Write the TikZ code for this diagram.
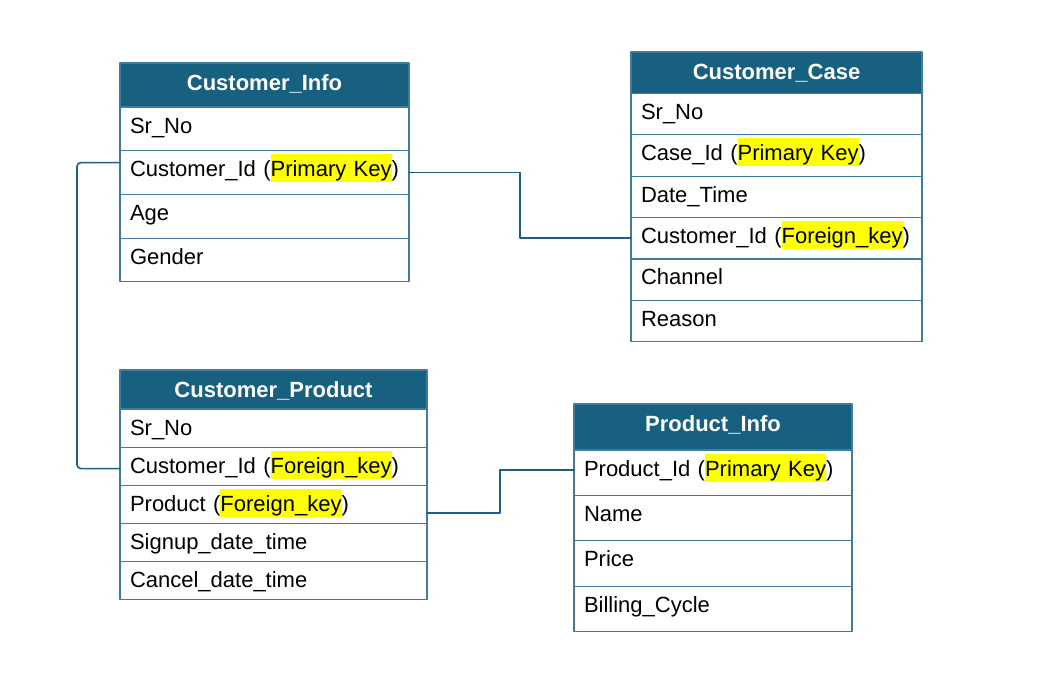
\documentclass[tikz,border=0pt]{standalone}
\usepackage{fontspec}
\setmainfont{Liberation Sans}
\usetikzlibrary{positioning}

\definecolor{headblue}{RGB}{24,96,128}
\definecolor{gridblue}{RGB}{66,124,156}
\definecolor{linkblue}{RGB}{30,94,128}
\definecolor{keyyellow}{RGB}{255,255,0}

% yellow marker behind a key word
\newcommand{\keymark}[1]{{\setlength{\fboxsep}{0pt}\colorbox{keyyellow}{\rule[-5.5pt]{0pt}{28pt}#1}}}

% text sits at a fixed distance below the top of each cell;
% args: text width, text depth (= cell height - text height)
\tikzset{
  cell/.style={draw=gridblue, line width=1.2pt, outer sep=0pt,
    inner xsep=10pt, inner ysep=0pt,
    font=\fontsize{22}{28}\selectfont},
  headcell/.style 2 args={cell, fill=headblue, text=white,
    font=\fontsize{22}{28}\selectfont\bfseries,
    text width=#1, text height=27.5pt, text depth=#2, align=center},
  fieldcell/.style 2 args={cell, fill=white, text width=#1,
    text height=26pt, text depth=#2, align=left},
  link/.style={draw=linkblue, line width=1.6pt},
}

\begin{document}
\begin{tikzpicture}[x=1pt, y=-1pt, line cap=round, line join=round]

\useasboundingbox (0,0) rectangle (1060,683);

% ----------------------------
% CUSTOMER_INFO
% ----------------------------
\node[headcell={269pt}{16.5pt}, anchor=north west] (ciHead) at (120,63) {Customer\_Info};
\node[fieldcell={269pt}{17.7pt}, below=0pt of ciHead] (ciSr) {Sr\_No};
\node[fieldcell={269pt}{17.7pt}, below=0pt of ciSr] (ciId) {Customer\_Id (\keymark{Primary Key})};
\node[fieldcell={269pt}{17.7pt}, below=0pt of ciId] (ciAge) {Age};
\node[fieldcell={269pt}{17.7pt}, below=0pt of ciAge] (ciGender) {Gender};

% ----------------------------
% CUSTOMER_CASE
% ----------------------------
\node[headcell={271pt}{13.8pt}, anchor=north west] (ccHead) at (631,52) {Customer\_Case};
\node[fieldcell={271pt}{15.4pt}, below=0pt of ccHead] (ccSr) {Sr\_No};
\node[fieldcell={271pt}{15.4pt}, below=0pt of ccSr] (ccCase) {Case\_Id (\keymark{Primary Key})};
\node[fieldcell={271pt}{15.4pt}, below=0pt of ccCase] (ccDate) {Date\_Time};
\node[fieldcell={271pt}{15.4pt}, below=0pt of ccDate] (ccCust) {Customer\_Id (\keymark{Foreign\_key})};
\node[fieldcell={271pt}{15.4pt}, below=0pt of ccCust] (ccChannel) {Channel};
\node[fieldcell={271pt}{15.4pt}, below=0pt of ccChannel] (ccReason) {Reason};

% ----------------------------
% CUSTOMER_PRODUCT
% ----------------------------
\node[headcell={287pt}{11.5pt}, anchor=north west] (cpHead) at (120,370) {Customer\_Product};
\node[fieldcell={287pt}{12.1pt}, below=0pt of cpHead] (cpSr) {Sr\_No};
\node[fieldcell={287pt}{12.1pt}, below=0pt of cpSr] (cpCust) {Customer\_Id (\keymark{Foreign\_key})};
\node[fieldcell={287pt}{12.1pt}, below=0pt of cpCust] (cpProd) {Product (\keymark{Foreign\_key})};
\node[fieldcell={287pt}{12.1pt}, below=0pt of cpProd] (cpSignup) {Signup\_date\_time};
\node[fieldcell={287pt}{12.1pt}, below=0pt of cpSignup] (cpCancel) {Cancel\_date\_time};

% ----------------------------
% PRODUCT_INFO
% ----------------------------
\node[headcell={258pt}{18.5pt}, anchor=north west] (piHead) at (574,404) {Product\_Info};
\node[fieldcell={258pt}{19.4pt}, below=0pt of piHead] (piId) {Product\_Id (\keymark{Primary Key})};
\node[fieldcell={258pt}{19.4pt}, below=0pt of piId] (piName) {Name};
\node[fieldcell={258pt}{19.4pt}, below=0pt of piName] (piPrice) {Price};
\node[fieldcell={258pt}{19.4pt}, below=0pt of piPrice] (piCycle) {Billing\_Cycle};

% ----------------------------
% RELATIONS
% ----------------------------
% Customer_Info -> Customer_Case
\draw[link] (ciId.east) -- ++(111,0) |- (ccCust.west);

% Customer_Info -> Customer_Product
\draw[link, rounded corners=4pt] ([yshift=10pt]ciId.west) -- ++(-43,0) |- ([yshift=-2.5pt]cpCust.west);

% Customer_Product -> Product_Info
\draw[link] ([yshift=-8.6pt]cpProd.east) -- ++(73,0) |- ([yshift=2.5pt]piId.west);

\end{tikzpicture}
\end{document}
